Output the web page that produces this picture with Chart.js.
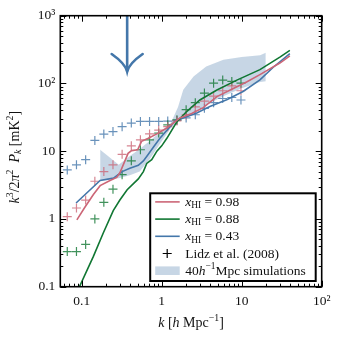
<!DOCTYPE html>
<html>
<head>
<meta charset="utf-8">
<script src="https://cdn.jsdelivr.net/npm/chart.js@4/dist/chart.umd.min.js"></script>
<style>
  html, body { margin: 0; padding: 0; background: #fff; }
</style>
</head>
<body>
<canvas id="chart" width="338" height="338"></canvas>
<script>
// Lidz et al. (2008) points, same k bins for all three
const kLidz = [0.066, 0.086, 0.112, 0.146, 0.189, 0.246, 0.32, 0.417, 0.542, 0.705,
               0.917, 1.19, 1.55, 2.02, 2.63, 3.42, 4.45, 5.79, 7.52, 9.79];
const lidz098 = [1.08, 1.45, 1.9, 3.6, 5.0, 6.3, 9.0, 12, 14.7, 18,
                 20.5, 23, 28, 34.5, 45, 55, 65, 78, 92, 78];
const lidz088 = [0.33, 0.33, 0.42, 1.0, 1.76, 2.75, 4.5, 7.2, 10.5, 14.7,
                 18.5, 24.5, 29, 41, 52, 72, 101, 112, 107, 101];
const lidz043 = [5.3, 6.3, 7.5, 14.4, 17.9, 19.5, 23, 26, 27.5, 27.5,
                 27.5, 27.8, 28.5, 31, 34.5, 43, 52, 60, 62, 57];

// simulation curves
const k098 = [0.087, 0.11, 0.14, 0.17, 0.226, 0.274, 0.30, 0.38, 0.42, 0.5, 0.56, 0.68,
              0.87, 1.16, 1.69, 2.37, 3.3, 4.9, 7.85, 11.5, 16.9, 30, 40];
const p098 = [0.97, 1.5, 2.3, 3.1, 3.7, 4.1, 4.8, 9.3, 10.2, 10.5, 14, 15.5,
              18, 22, 31, 36, 44, 64, 84, 105, 135, 200, 255];
const k088 = [0.09, 0.14, 0.186, 0.248, 0.30, 0.37, 0.51, 0.59, 0.65, 0.75, 0.87, 1.0,
              1.16, 1.54, 2.05, 3.0, 4.9, 8.7, 16.9, 30, 40];
const p088 = [0.09, 0.28, 0.62, 1.33, 1.9, 2.7, 3.9, 5.0, 6.6, 7.5, 10, 12,
              15.5, 27, 38.5, 57, 80, 112, 160, 245, 307];
const k043 = [0.085, 0.17, 0.25, 0.32, 0.40, 0.51, 0.59, 0.68, 0.79, 0.95, 1.17, 1.47,
              1.86, 2.74, 4.0, 6.5, 10.4, 16.9, 25, 40];
const p043 = [1.72, 3.7, 4.0, 5.0, 5.6, 6.2, 7.2, 9.0, 11.5, 15.5, 20.5, 28,
              31, 36.6, 45.7, 57.5, 76, 113, 175, 275];

// 40 h^-1 Mpc simulation band
const kBand = [0.17, 0.2, 0.29, 0.4, 0.53, 0.7, 1.0, 1.3, 1.6, 1.86, 2.5, 3.6, 5.9, 10, 17, 20];
const bandLow = [3.7, 3.8, 4.0, 4.4, 5.0, 7.5, 14, 22, 28, 32, 38, 48, 65, 85, 105, 108];
const bandHigh = [10.5, 9.0, 6.3, 8.5, 10.8, 14, 20, 26, 45, 81, 127, 178, 224, 245, 260, 285];

// arrow marker
const arrowK = 0.37;
const arrowTipP = 150;

const xTickVals = [0.1, 1, 10, 100];
const xTickLabels = ['0.1', '1', '10', '10²'];
const yTickVals = [0.1, 1, 10, 100, 1000];
const yTickLabels = ['0.1', '1', '10', '10²', '10³'];

const RED = '#CC6677', GREEN = '#117733', BLUE = '#4477AA';
const SERIF = '"Liberation Serif", "DejaVu Serif", serif';

const pts = (ks, ps) => ks.map((k, i) => ({ x: k, y: ps[i] }));

function lineSet(ks, ps, color) {
  return { data: pts(ks, ps), borderColor: color, borderWidth: 1.6, pointRadius: 0, fill: false, order: 0 };
}
function crossSet(ps, color) {
  return { data: pts(kLidz, ps), showLine: false, pointStyle: 'cross', pointRadius: 4.5,
           borderColor: color, borderWidth: 1.2, backgroundColor: color, order: 1 };
}

const datasets = [
  lineSet(k098, p098, RED),
  lineSet(k088, p088, GREEN),
  lineSet(k043, p043, BLUE),
  crossSet(lidz098, 'rgba(204,102,119,0.8)'),
  crossSet(lidz088, 'rgba(17,119,51,0.8)'),
  crossSet(lidz043, 'rgba(68,119,170,0.8)'),
  { data: pts(kBand, bandHigh), borderColor: 'transparent', borderWidth: 0, pointRadius: 0,
    fill: '+1', backgroundColor: 'rgba(68,119,170,0.3)', order: 2 },
  { data: pts(kBand, bandLow), borderColor: 'transparent', borderWidth: 0, pointRadius: 0,
    fill: false, order: 2 }
];

// rich text: parts with italic / sup / sub
function fontFor(p, size) {
  const s = (p.sup || p.sub) ? size * 0.7 : size;
  return (p.i ? 'italic ' : '') + s + 'px ' + SERIF;
}
function drawRich(ctx, parts, x, y, size, align) {
  let w = 0;
  parts.forEach(p => { ctx.font = fontFor(p, size); w += ctx.measureText(p.t).width; });
  let cx = align === 'center' ? x - w / 2 : x;
  parts.forEach(p => {
    ctx.font = fontFor(p, size);
    const dy = p.sup ? -0.36 * size : p.sub ? 0.25 * size : 0;
    ctx.fillText(p.t, cx, y + dy);
    cx += ctx.measureText(p.t).width;
  });
}

const legendRows = [
  { kind: 'line', color: RED, parts: [{ t: 'x', i: true }, { t: 'HI', sub: true }, { t: ' = 0.98' }] },
  { kind: 'line', color: GREEN, parts: [{ t: 'x', i: true }, { t: 'HI', sub: true }, { t: ' = 0.88' }] },
  { kind: 'line', color: BLUE, parts: [{ t: 'x', i: true }, { t: 'HI', sub: true }, { t: ' = 0.43' }] },
  { kind: 'cross', color: '#000', parts: [{ t: 'Lidz et al. (2008)' }] },
  { kind: 'band', color: 'rgba(68,119,170,0.3)', parts: [{ t: '40' }, { t: 'h', i: true }, { t: '−1', sup: true }, { t: 'Mpc simulations' }] }
];

function logMarks(min, max) {
  const out = [];
  for (let e = Math.floor(Math.log10(min)); e <= Math.ceil(Math.log10(max)); e++) {
    for (let m = 1; m <= 9; m++) {
      const v = m * Math.pow(10, e);
      if (v >= min * 0.999 && v <= max * 1.001) out.push({ v, major: m === 1 });
    }
  }
  return out;
}

const decor = {
  id: 'decor',
  afterDatasetsDraw(chart) {
    const { ctx, chartArea: a, scales: { x, y } } = chart;
    ctx.save();

    // arrow: straight shaft, flared curved barbs
    const ax = x.getPixelForValue(arrowK);
    const tipY = y.getPixelForValue(arrowTipP);
    ctx.strokeStyle = BLUE;
    ctx.lineWidth = 2.6;
    ctx.lineCap = 'butt';
    ctx.beginPath();
    ctx.moveTo(ax, a.top);
    ctx.lineTo(ax, tipY);
    ctx.stroke();
    ctx.lineCap = 'round';
    ctx.beginPath();
    ctx.moveTo(ax - 15.5, tipY - 17.5);
    ctx.quadraticCurveTo(ax - 2, tipY - 8, ax, tipY);
    ctx.quadraticCurveTo(ax + 2, tipY - 8, ax + 15.5, tipY - 17.5);
    ctx.stroke();
    ctx.lineCap = 'butt';

    // legend
    const bx = a.right - 171.5, by = a.top + 177.6, bw = 165.5, bh = 87.7;
    ctx.fillStyle = '#fff';
    ctx.fillRect(bx, by, bw, bh);
    ctx.strokeStyle = '#000';
    ctx.lineWidth = 2;
    ctx.strokeRect(bx, by, bw, bh);
    ctx.textBaseline = 'middle';
    ctx.textAlign = 'left';
    legendRows.forEach((r, i) => {
      const ry = by + 8.6 + i * 17.2;
      if (r.kind === 'line') {
        ctx.strokeStyle = r.color;
        ctx.lineWidth = 1.6;
        ctx.beginPath();
        ctx.moveTo(bx + 5, ry);
        ctx.lineTo(bx + 29.5, ry);
        ctx.stroke();
      } else if (r.kind === 'cross') {
        ctx.strokeStyle = '#000';
        ctx.lineWidth = 1.2;
        ctx.beginPath();
        ctx.moveTo(bx + 12.5, ry); ctx.lineTo(bx + 21.5, ry);
        ctx.moveTo(bx + 17, ry - 4.5); ctx.lineTo(bx + 17, ry + 4.5);
        ctx.stroke();
      } else {
        ctx.fillStyle = r.color;
        ctx.fillRect(bx + 5, ry - 4.3, 24.5, 8.6);
      }
      ctx.fillStyle = '#111';
      drawRich(ctx, r.parts, bx + 35, ry + 0.5, 13.5, 'left');
    });

    // frame and inward ticks
    ctx.strokeStyle = '#000';
    ctx.lineWidth = 1;
    logMarks(x.min, x.max).forEach(t => {
      const px = Math.round(x.getPixelForValue(t.v)) + 0.5;
      const len = t.major ? 6 : 3;
      ctx.beginPath();
      ctx.moveTo(px, a.bottom); ctx.lineTo(px, a.bottom - len);
      ctx.moveTo(px, a.top); ctx.lineTo(px, a.top + len);
      ctx.stroke();
    });
    logMarks(y.min, y.max).forEach(t => {
      const py = Math.round(y.getPixelForValue(t.v)) + 0.5;
      const len = t.major ? 6 : 3;
      ctx.beginPath();
      ctx.moveTo(a.left, py); ctx.lineTo(a.left + len, py);
      ctx.moveTo(a.right, py); ctx.lineTo(a.right - len, py);
      ctx.stroke();
    });
    ctx.lineWidth = 1.6;
    ctx.strokeRect(a.left, a.top, a.right - a.left, a.bottom - a.top);

    // axis titles
    ctx.fillStyle = '#111';
    ctx.textBaseline = 'middle';
    drawRich(ctx, [{ t: 'k', i: true }, { t: ' [' }, { t: 'h', i: true }, { t: ' Mpc' }, { t: '−1', sup: true }, { t: ']' }],
             (a.left + a.right) / 2, 323, 14, 'center');
    ctx.translate(15, (a.top + a.bottom) / 2 + 6);
    ctx.rotate(-Math.PI / 2);
    drawRich(ctx, [{ t: 'k', i: true }, { t: '3', sup: true }, { t: '/2' }, { t: 'π', i: true }, { t: '2', sup: true },
                   { t: '  ' }, { t: 'P', i: true }, { t: 'k', i: true, sub: true }, { t: ' [mK' }, { t: '2', sup: true }, { t: ']' }],
             0, 0, 14, 'center');
    ctx.restore();
  }
};

new Chart(document.getElementById('chart'), {
  type: 'line',
  data: { datasets },
  options: {
    responsive: false,
    animation: false,
    devicePixelRatio: 1,
    layout: { padding: { left: 0, right: 16.3, top: 15.7, bottom: 0 } },
    plugins: { legend: { display: false }, tooltip: { enabled: false } },
    scales: {
      x: {
        type: 'logarithmic', min: 0.054, max: 100,
        grid: { display: false, drawTicks: false },
        border: { display: false },
        afterBuildTicks: ax => { ax.ticks = xTickVals.map(v => ({ value: v })); },
        afterFit: ax => { ax.height = 51.3; },
        ticks: { autoSkip: false, maxRotation: 0, padding: 7, color: '#111',
                 font: { family: SERIF, size: 13.5 }, callback: (v, i) => xTickLabels[i] }
      },
      y: {
        type: 'logarithmic', min: 0.1, max: 1000,
        grid: { display: false, drawTicks: false },
        border: { display: false },
        afterBuildTicks: ax => { ax.ticks = yTickVals.map(v => ({ value: v })); },
        afterFit: ax => { ax.width = 60.3; },
        ticks: { autoSkip: false, padding: 5, color: '#111',
                 font: { family: SERIF, size: 13.5 }, callback: (v, i) => yTickLabels[i] }
      }
    }
  },
  plugins: [decor]
});
</script>
</body>
</html>
